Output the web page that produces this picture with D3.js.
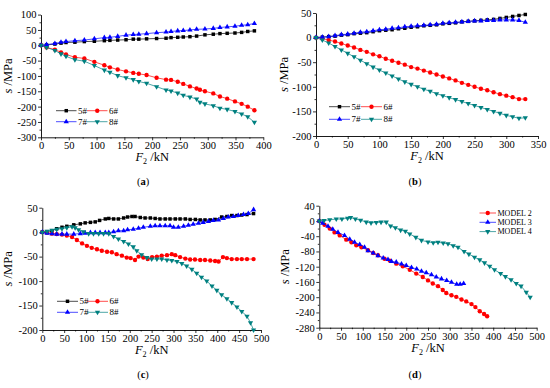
<!DOCTYPE html>
<html>
<head>
<meta charset="utf-8">
<script src="https://cdn.jsdelivr.net/npm/d3@7/dist/d3.min.js"></script>
<style>
body { margin: 0; background: #fff; }
svg { display: block; font-family: "Liberation Serif", "Times New Roman", serif; }
</style>
</head>
<body>
<svg id="chart" width="550" height="388"></svg>
<script>

// ---- panel (a)
const aX57 = [0,10,25,36,45,61,78,96,114,124,138,153,166,176,190,208,225,234,246,256,268,280,295,310,322,335,349,361,372,384];
const a5 = [0,1,4,7,9,10,12,13,15,16,17,18,20,20,21,22,23,25,26,27,28,30,34,36,38,39,40,42,45,47];
const a7 = [0,2,6,10,12,15,17,21,25,26,29,33,35,36,38,41,43,45,47,48,50,52,53,55,58,60,62,65,67,71];
const aX68 = [0,10,25,36,45,61,78,96,114,124,138,153,166,176,190,208,225,234,246,256,268,280,286,295,310,322,335,349,361,372,384];
const a6 = [0,-7,-14,-23,-30,-39,-43,-54,-65,-72,-79,-85,-90,-93,-97,-106,-112,-113,-119,-126,-134,-141,-145,-150,-157,-167,-174,-183,-191,-200,-212];
const a8 = [0,-7,-17,-28,-36,-47,-52,-66,-81,-88,-99,-106,-112,-118,-124,-135,-146,-149,-156,-163,-169,-175,-186,-191,-197,-205,-209,-216,-224,-233,-251];
const aXTicks = [0,50,100,150,200,250,300,350,400];
const aYTicks = [-300,-250,-200,-150,-100,-50,0,50,100];

// ---- panel (b)
const bX = [0,10,20,30,40,50,60,70,80,90,100,110,120,130,140,150,160,170,180,190,200,210,220,230,240,250,260,270,280,290,300,310,320,330];
const b5 = [0,1,2,3,5,6,8,9,10,12,14,15,16,18,19,21,22,24,25,26,28,29,30,32,33,34,35,36,37,39,41,43,45,47];
const b6 = [0,-2,-5,-8,-12,-16,-20,-25,-29,-34,-38,-43,-47,-51,-55,-60,-63,-67,-71,-75,-79,-83,-87,-92,-96,-100,-104,-107,-111,-115,-118,-121,-125,-125];
const b7 = [0,1,2,4,6,7,9,11,12,14,16,17,19,20,22,23,24,25,26,27,29,30,31,32,33,34,34,35,35,36,36,36,35,31];
const b8 = [0,-5,-11,-18,-25,-32,-39,-46,-53,-60,-66,-72,-78,-84,-90,-95,-100,-105,-109,-114,-118,-122,-126,-130,-134,-138,-142,-146,-150,-154,-158,-161,-164,-163];
const bXTicks = [0,50,100,150,200,250,300,350];
const bYTicks = [-200,-150,-100,-50,0,50];

// ---- panel (c)
const cX5 = [0,11,22,33,45,56,72,87,98,110,121,131,144,152,163,174,186,195,205,212,224,235,247,258,269,281,292,304,315,327,338,350,361,372,384,395,410,422,433,445,456,468,483];
const c5 = [0,1,3,7,10,12,15,17,19,20,21,24,27,28,27,27,29,31,32,32,30,29,29,28,27,27,27,27,27,27,26,26,25,25,25,26,31,32,34,34,35,36,38];
const cX6 = [0,11,22,33,45,56,68,79,91,102,113,125,136,148,159,170,182,193,202,212,220,231,241,251,262,273,285,296,304,315,327,338,349,361,372,384,395,403,413,422,433,445,456,468,483];
const c6 = [0,-1,-3,-4,-5,-7,-10,-16,-23,-28,-32,-35,-38,-40,-41,-45,-48,-52,-53,-57,-50,-52,-55,-51,-50,-48,-47,-45,-47,-51,-54,-56,-56,-57,-57,-58,-59,-60,-51,-53,-55,-55,-55,-55,-55];
const cX7 = [0,11,22,33,45,56,72,87,98,110,121,132,144,152,163,174,186,195,208,220,231,247,258,269,281,292,300,311,323,334,345,357,368,380,391,403,414,425,437,448,460,471,483];
const c7 = [0,-2,-3,-4,-4,-4,-4,-3,-2,-1,-1,-1,-1,-1,1,3,3,5,6,8,10,12,13,13,13,13,10,10,12,14,16,18,20,22,24,25,28,31,32,34,36,38,46];
const cX8 = [0,11,22,33,45,56,68,75,83,94,106,117,129,140,152,163,174,186,197,208,216,227,239,250,262,273,285,296,308,319,330,342,353,364,376,388,399,410,422,433,445,456,468,476,483];
const c8 = [0,2,4,6,7,9,11,9,5,1,-3,-3,-3,-3,-3,-9,-14,-19,-24,-30,-38,-46,-52,-55,-55,-55,-57,-58,-60,-64,-69,-76,-84,-92,-100,-110,-119,-128,-136,-144,-153,-162,-172,-185,-200];
const cXTicks = [0,50,100,150,200,250,300,350,400,450,500];
const cYTicks = [-200,-150,-100,-50,0,50];

// ---- panel (d)
const dX2 = [0,12,24,35,47,62,74,85,97,112,124,135,150,162,177,192,208,223,238,250,261,273,284,292,304,315,327,338,350,359,369,379,386];
const m2 = [0,-10,-20,-30,-38,-49,-56,-64,-69,-77,-84,-90,-99,-104,-112,-119,-128,-138,-147,-156,-164,-171,-181,-189,-195,-199,-206,-211,-218,-226,-237,-244,-250];
const dX3 = [0,8,20,31,43,58,70,81,93,104,112,124,135,147,158,166,177,189,200,212,224,235,246,258,269,281,293,304,316,324,332];
const m3 = [0,-6,-14,-22,-30,-38,-48,-56,-62,-69,-78,-84,-91,-97,-101,-106,-108,-113,-117,-122,-126,-132,-136,-141,-147,-152,-156,-161,-166,-166,-164];
const dX4 = [0,11,24,39,52,65,72,83,95,108,119,131,142,154,164,175,187,198,208,222,235,250,262,273,285,296,308,319,333,344,357,369,380,392,403,417,428,441,453,464,476,485];
const m4 = [0,1,3,5,5,7,9,5,2,-3,-5,-4,-3,-3,-13,-18,-24,-27,-34,-43,-51,-55,-57,-56,-58,-60,-65,-69,-80,-87,-95,-102,-110,-119,-128,-138,-146,-154,-164,-171,-187,-200];
const dXTicks = [0,50,100,150,200,250,300,350,400,450,500];
const dYTicks = [-280,-240,-200,-160,-120,-80,-40,0,40];

const gaugeNames = ['5#', '6#', '7#', '8#'];
const modelNames = ['MODEL 2', 'MODEL 3', 'MODEL 4'];

const BLACK = '#000000';
const RED = '#ff0000';
const BLUE = '#0000ff';
const TEAL = '#008080';

const svg = d3.select('#chart');

function markerPath(shape) {
	if (shape === 'square') return d3.symbol().type(d3.symbolSquare).size(12)();
	if (shape === 'circle') return d3.symbol().type(d3.symbolCircle).size(15)();
	return d3.symbol().type(d3.symbolTriangle).size(12)();
}

function markerTransform(shape, x, y) {
	if (shape === 'down') return `translate(${x},${y}) rotate(180)`;
	return `translate(${x},${y})`;
}

function midpoints(ticks) {
	const out = [];
	for (let i = 0; i < ticks.length - 1; i++) {
		out.push((ticks[i] + ticks[i + 1]) / 2);
	}
	return out;
}

function drawPanel(p) {
	const g = svg.append('g');

	const x = d3.scaleLinear()
		.domain([p.xTicks[0], p.xTicks[p.xTicks.length - 1]])
		.range([p.left, p.right]);
	const y = d3.scaleLinear()
		.domain([p.yTicks[0], p.yTicks[p.yTicks.length - 1]])
		.range([p.bottom, p.top]);

	// minor ticks first
	g.append('g')
		.attr('transform', `translate(${p.left},0)`)
		.call(d3.axisLeft(y).tickValues(midpoints(p.yTicks)).tickSize(1.5).tickFormat(''))
		.call(a => a.select('.domain').remove());
	g.append('g')
		.attr('transform', `translate(0,${p.bottom})`)
		.call(d3.axisBottom(x).tickValues(midpoints(p.xTicks)).tickSize(1.5).tickFormat(''))
		.call(a => a.select('.domain').remove());

	const yAxis = g.append('g')
		.attr('transform', `translate(${p.left},0)`)
		.call(d3.axisLeft(y).tickValues(p.yTicks).tickSize(3).tickSizeOuter(0).tickPadding(1.5).tickFormat(d => String(d)));
	const xAxis = g.append('g')
		.attr('transform', `translate(0,${p.bottom})`)
		.call(d3.axisBottom(x).tickValues(p.xTicks).tickSize(3).tickSizeOuter(0).tickPadding(1.5).tickFormat(d => String(d)));

	[yAxis, xAxis].forEach(a => {
		a.attr('font-family', null).attr('font-size', null);
		a.selectAll('text').attr('font-size', 10.5).attr('fill', '#000');
		a.select('.domain').attr('stroke', '#000').attr('stroke-width', 0.9);
	});
	g.selectAll('.tick line').attr('stroke', '#000').attr('stroke-width', 0.8);

	const line = d3.line()
		.x(d => x(d[0]))
		.y(d => y(d[1]));

	p.series.forEach(s => {
		const pts = s.x.map((v, i) => [v, s.y[i]]);
		g.append('path')
			.datum(pts)
			.attr('d', line)
			.attr('fill', 'none')
			.attr('stroke', s.color)
			.attr('stroke-width', 0.7);
		g.selectAll(null)
			.data(pts)
			.enter()
			.append('path')
			.attr('d', markerPath(s.shape))
			.attr('transform', d => markerTransform(s.shape, x(d[0]), y(d[1])))
			.attr('fill', s.color);
	});

	// legend
	p.legend.forEach(l => {
		const s = p.series[l.series];
		g.append('line')
			.attr('x1', l.x)
			.attr('x2', l.x + l.len)
			.attr('y1', l.y)
			.attr('y2', l.y)
			.attr('stroke', s.color)
			.attr('stroke-width', 0.7);
		g.append('path')
			.attr('d', markerPath(s.shape))
			.attr('transform', markerTransform(s.shape, l.x + l.len / 2, l.y))
			.attr('fill', s.color);
		g.append('text')
			.attr('x', l.x + l.len + 1.5)
			.attr('y', l.y)
			.attr('dy', '0.35em')
			.attr('font-size', p.legendFont)
			.text(l.text);
	});

	// axis titles
	const cy = (p.top + p.bottom) / 2;
	const yt = g.append('text')
		.attr('transform', `translate(${p.yTitleX},${cy}) rotate(-90)`)
		.attr('text-anchor', 'middle')
		.attr('font-size', 12.5);
	yt.append('tspan').attr('font-style', 'italic').text('s');
	yt.append('tspan').text(' /MPa');

	const xt = g.append('text')
		.attr('x', (p.left + p.right) / 2)
		.attr('y', p.bottom + 24)
		.attr('text-anchor', 'middle')
		.attr('font-size', 12.5);
	xt.append('tspan').attr('font-style', 'italic').text('F');
	xt.append('tspan').attr('font-size', 8).attr('dy', 3).text('2');
	xt.append('tspan').attr('dy', -3).text(' /kN');

	const lab = g.append('text')
		.attr('x', p.labelX)
		.attr('y', p.labelY)
		.attr('text-anchor', 'middle')
		.attr('font-size', 10.5);
	lab.append('tspan').text('(');
	lab.append('tspan').attr('font-weight', 'bold').text(p.label);
	lab.append('tspan').text(')');
}

function gaugeLegend(x0, x1, y0, y1, len) {
	return [
		{series: 0, x: x0, y: y0, len: len, text: gaugeNames[0]},
		{series: 1, x: x1, y: y0, len: len, text: gaugeNames[1]},
		{series: 2, x: x0, y: y1, len: len, text: gaugeNames[2]},
		{series: 3, x: x1, y: y1, len: len, text: gaugeNames[3]}
	];
}

drawPanel({
	left: 41, right: 263.3, top: 14.6, bottom: 137.3,
	xTicks: aXTicks, yTicks: aYTicks,
	series: [
		{x: aX57, y: a5, color: BLACK, shape: 'square'},
		{x: aX68, y: a6, color: RED, shape: 'circle'},
		{x: aX57, y: a7, color: BLUE, shape: 'up'},
		{x: aX68, y: a8, color: TEAL, shape: 'down'}
	],
	legend: gaugeLegend(56, 87, 110.7, 121.7, 20.5),
	legendFont: 9,
	yTitleX: 12, label: 'a', labelX: 143, labelY: 185
});

drawPanel({
	left: 316, right: 538, top: 13, bottom: 136,
	xTicks: bXTicks, yTicks: bYTicks,
	series: [
		{x: bX, y: b5, color: BLACK, shape: 'square'},
		{x: bX, y: b6, color: RED, shape: 'circle'},
		{x: bX, y: b7, color: BLUE, shape: 'up'},
		{x: bX, y: b8, color: TEAL, shape: 'down'}
	],
	legend: gaugeLegend(329, 361, 106.7, 119.3, 21),
	legendFont: 9,
	yTitleX: 288, label: 'b', labelX: 415, labelY: 185
});

drawPanel({
	left: 42.3, right: 261, top: 207.7, bottom: 330,
	xTicks: cXTicks, yTicks: cYTicks,
	series: [
		{x: cX5, y: c5, color: BLACK, shape: 'square'},
		{x: cX6, y: c6, color: RED, shape: 'circle'},
		{x: cX7, y: c7, color: BLUE, shape: 'up'},
		{x: cX8, y: c8, color: TEAL, shape: 'down'}
	],
	legend: gaugeLegend(57, 87, 301.3, 312.3, 21),
	legendFont: 9,
	yTitleX: 12, label: 'c', labelX: 143, labelY: 378
});

drawPanel({
	left: 319.3, right: 536.7, top: 205.7, bottom: 327.7,
	xTicks: dXTicks, yTicks: dYTicks,
	series: [
		{x: dX2, y: m2, color: RED, shape: 'circle'},
		{x: dX3, y: m3, color: BLUE, shape: 'up'},
		{x: dX4, y: m4, color: TEAL, shape: 'down'}
	],
	legend: [
		{series: 0, x: 479.5, y: 213, len: 16.5, text: modelNames[0]},
		{series: 1, x: 479.5, y: 222.3, len: 16.5, text: modelNames[1]},
		{series: 2, x: 479.5, y: 231.6, len: 16.5, text: modelNames[2]}
	],
	legendFont: 8,
	yTitleX: 289, label: 'd', labelX: 415, labelY: 378
});

</script>
</body>
</html>
